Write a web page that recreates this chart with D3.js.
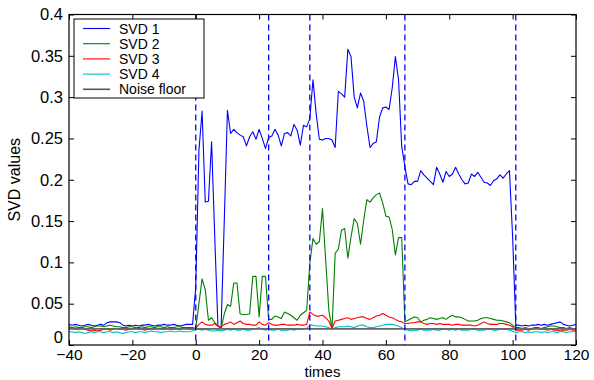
<!DOCTYPE html>
<html>
<head>
<meta charset="utf-8">
<script src="https://cdn.jsdelivr.net/npm/d3@7"></script>
<style>
  html, body { margin: 0; padding: 0; background: #fff; }
  svg { display: block; font-family: "Liberation Sans", Arial, Helvetica, sans-serif; }
</style>
</head>
<body>
<svg id="chart" width="594" height="380"></svg>
<script>
// ---- data ----
const timeStart = -40, timeEnd = 120;
const times = d3.range(timeStart, timeEnd + 1);

const svd1 = [
  // -40 .. -1
  0.025,0.024,0.025,0.024,0.023,0.024,0.025,0.024,0.023,0.024,
  0.025,0.024,0.027,0.028,0.028,0.028,0.027,0.024,0.023,0.024,
  0.023,0.024,0.023,0.024,0.024,0.025,0.024,0.023,0.024,0.024,
  0.025,0.024,0.024,0.025,0.024,0.023,0.024,0.025,0.025,0.025,
  // 0 .. 9
  0.070,0.235,0.283,0.173,0.174,0.246,0.130,0.023,0.021,0.150,
  // 10 .. 19
  0.284,0.256,0.261,0.257,0.254,0.252,0.241,0.252,0.258,0.249,
  // 20 .. 29
  0.261,0.250,0.238,0.251,0.253,0.261,0.254,0.241,0.256,0.257,
  // 30 .. 39
  0.253,0.267,0.260,0.242,0.266,0.264,0.274,0.321,0.280,0.249,
  // 40 .. 49
  0.248,0.250,0.250,0.248,0.239,0.307,0.304,0.300,0.358,0.349,
  // 50 .. 59
  0.300,0.287,0.305,0.295,0.265,0.239,0.244,0.246,0.276,0.287,
  // 60 .. 69
  0.288,0.285,0.311,0.349,0.321,0.240,0.216,0.195,0.194,0.198,
  // 70 .. 79
  0.198,0.211,0.206,0.202,0.198,0.194,0.215,0.207,0.197,0.210,
  // 80 .. 89
  0.204,0.207,0.215,0.207,0.200,0.195,0.196,0.207,0.204,0.209,
  // 90 .. 99
  0.203,0.197,0.196,0.193,0.199,0.201,0.206,0.202,0.207,0.211,
  // 100 .. 109
  0.131,0.024,0.024,0.023,0.024,0.023,0.024,0.024,0.025,0.024,
  // 110 .. 120
  0.025,0.024,0.025,0.026,0.027,0.028,0.025,0.024,0.023,0.024,0.025
];

const svd2 = [
  0.022,0.021,0.022,0.021,0.021,0.022,0.022,0.021,0.022,0.023,
  0.023,0.022,0.023,0.024,0.023,0.022,0.022,0.021,0.021,0.022,
  0.022,0.021,0.021,0.022,0.021,0.022,0.022,0.021,0.022,0.022,
  0.021,0.022,0.021,0.021,0.022,0.022,0.021,0.021,0.021,0.021,
  // 0 .. 9
  0.020,0.050,0.080,0.067,0.030,0.033,0.027,0.023,0.020,0.0375,
  // 10 .. 19
  0.049,0.047,0.075,0.075,0.0375,0.037,0.037,0.0375,0.083,0.083,
  // 20 .. 29
  0.034,0.083,0.083,0.031,0.031,0.035,0.034,0.032,0.040,0.038,
  // 30 .. 39
  0.036,0.033,0.030,0.036,0.039,0.042,0.099,0.129,0.122,0.125,
  // 40 .. 49
  0.165,0.103,0.042,0.020,0.111,0.116,0.139,0.141,0.105,0.131,
  // 50 .. 59
  0.153,0.147,0.122,0.151,0.176,0.173,0.178,0.182,0.184,0.172,
  // 60 .. 69
  0.156,0.155,0.140,0.109,0.130,0.130,0.028,0.030,0.032,0.034,
  // 70 .. 79
  0.033,0.028,0.030,0.031,0.033,0.032,0.031,0.032,0.033,0.031,
  // 80 .. 89
  0.034,0.036,0.034,0.034,0.033,0.031,0.029,0.029,0.029,0.030,
  // 90 .. 99
  0.032,0.033,0.033,0.032,0.031,0.030,0.030,0.029,0.028,0.027,
  // 100 .. 109
  0.024,0.021,0.021,0.020,0.021,0.020,0.020,0.021,0.021,0.020,
  // 110 .. 120
  0.021,0.022,0.023,0.023,0.022,0.021,0.021,0.020,0.021,0.020,0.020
];

const svd3 = [
  0.020,0.020,0.019,0.019,0.020,0.019,0.018,0.017,0.018,0.017,
  0.018,0.019,0.019,0.018,0.019,0.020,0.019,0.019,0.018,0.019,
  0.019,0.020,0.019,0.019,0.018,0.019,0.019,0.019,0.020,0.019,
  0.019,0.020,0.019,0.019,0.019,0.019,0.020,0.020,0.019,0.019,
  // 0 .. 9
  0.020,0.025,0.028,0.025,0.024,0.024,0.026,0.023,0.022,0.025,
  // 10 .. 19
  0.026,0.028,0.025,0.027,0.029,0.026,0.025,0.025,0.024,0.024,
  // 20 .. 29
  0.028,0.025,0.024,0.027,0.025,0.024,0.024,0.025,0.025,0.024,
  // 30 .. 39
  0.024,0.024,0.025,0.024,0.024,0.025,0.040,0.037,0.035,0.035,
  // 40 .. 49
  0.036,0.033,0.029,0.020,0.029,0.030,0.031,0.032,0.033,0.031,
  // 50 .. 59
  0.032,0.033,0.034,0.034,0.032,0.031,0.033,0.035,0.036,0.038,
  // 60 .. 69
  0.036,0.034,0.033,0.031,0.029,0.028,0.026,0.026,0.027,0.027,
  // 70 .. 79
  0.028,0.028,0.026,0.025,0.026,0.026,0.025,0.026,0.025,0.025,
  // 80 .. 89
  0.025,0.024,0.025,0.025,0.024,0.024,0.024,0.024,0.023,0.024,
  // 90 .. 99
  0.026,0.028,0.026,0.025,0.025,0.025,0.026,0.026,0.025,0.024,
  // 100 .. 109
  0.022,0.018,0.018,0.018,0.019,0.018,0.019,0.020,0.020,0.019,
  // 110 .. 120
  0.019,0.018,0.019,0.018,0.018,0.017,0.018,0.018,0.019,0.018,0.018
];

const svd4 = [
  0.016,0.016,0.015,0.016,0.015,0.014,0.015,0.016,0.015,0.016,
  0.016,0.015,0.016,0.016,0.015,0.016,0.015,0.014,0.015,0.016,
  0.016,0.015,0.016,0.016,0.015,0.016,0.017,0.016,0.016,0.015,
  0.016,0.016,0.017,0.016,0.016,0.017,0.016,0.016,0.016,0.017,
  // 0 .. 9
  0.019,0.019,0.018,0.019,0.018,0.017,0.017,0.018,0.017,0.018,
  // 10 .. 19
  0.019,0.018,0.019,0.018,0.018,0.019,0.018,0.018,0.019,0.020,
  // 20 .. 29
  0.021,0.019,0.018,0.019,0.018,0.018,0.019,0.018,0.018,0.018,
  // 30 .. 39
  0.019,0.018,0.019,0.019,0.019,0.020,0.024,0.024,0.023,0.023,
  // 40 .. 49
  0.023,0.022,0.021,0.019,0.021,0.022,0.022,0.022,0.023,0.022,
  // 50 .. 59
  0.021,0.023,0.024,0.024,0.022,0.021,0.021,0.022,0.023,0.024,
  // 60 .. 69
  0.025,0.025,0.025,0.024,0.023,0.021,0.019,0.018,0.017,0.018,
  // 70 .. 79
  0.018,0.019,0.018,0.018,0.018,0.019,0.018,0.018,0.019,0.019,
  // 80 .. 89
  0.018,0.019,0.018,0.019,0.018,0.018,0.018,0.019,0.019,0.018,
  // 90 .. 99
  0.018,0.018,0.019,0.019,0.018,0.018,0.019,0.019,0.019,0.018,
  // 100 .. 109
  0.017,0.015,0.016,0.016,0.015,0.016,0.015,0.016,0.016,0.015,
  // 110 .. 120
  0.016,0.015,0.016,0.016,0.015,0.016,0.016,0.015,0.016,0.016,0.016
];

const noiseFloor = 0.0195;
const eventTimes = [0, 23, 36, 66, 101];

const xTicks = [-40, -20, 0, 20, 40, 60, 80, 100, 120];
const yTicks = [0, 0.05, 0.1, 0.15, 0.2, 0.25, 0.3, 0.35, 0.4];
const yTickLabels = ["0", "0.05", "0.1", "0.15", "0.2", "0.25", "0.3", "0.35", "0.4"];

const seriesNames = ["SVD 1", "SVD 2", "SVD 3", "SVD 4", "Noise floor"];
const seriesColors = ["#0000ff", "#007f00", "#ff0000", "#00bfbf", "#555555"];

// ---- layout ----
const W = 594, H = 380;
const margin = { left: 69, right: 18, top: 14.5, bottom: 35 };
const iw = W - margin.left - margin.right;
const ih = H - margin.top - margin.bottom;

const svg = d3.select("#chart");
const g = svg.append("g").attr("transform", `translate(${margin.left},${margin.top})`);

const x = d3.scaleLinear().domain([-40, 120]).range([0, iw]);
const y = d3.scaleLinear().domain([0, 0.4]).range([ih, 0]);

const fmtX = d => d < 0 ? "\u2212" + Math.abs(d) : String(d);
const fmtY = d => yTickLabels[yTicks.indexOf(d)];

svg.append("defs").append("clipPath").attr("id", "clip")
  .append("rect").attr("width", iw).attr("height", ih);

const plot = g.append("g").attr("clip-path", "url(#clip)");

const line = d3.line().x((d, i) => x(times[i])).y(d => y(d));

const allSeries = [svd1, svd2, svd3, svd4];
allSeries.forEach((s, k) => {
  plot.append("path").datum(s)
    .attr("d", line)
    .attr("fill", "none")
    .attr("stroke", seriesColors[k])
    .attr("stroke-width", 1.1)
    .attr("stroke-linejoin", "round");
});

plot.append("line")
  .attr("x1", x(-40)).attr("x2", x(120))
  .attr("y1", y(noiseFloor)).attr("y2", y(noiseFloor))
  .attr("stroke", "#666666").attr("stroke-width", 1.6);

plot.selectAll("line.event").data(eventTimes).join("line")
  .attr("class", "event")
  .attr("x1", d => x(d)).attr("x2", d => x(d))
  .attr("y1", 0).attr("y2", ih)
  .attr("stroke", "#0000ff").attr("stroke-width", 1.3)
  .attr("stroke-dasharray", "6,4");

// axes (inward ticks on all sides)
const axB = g.append("g").attr("transform", `translate(0,${ih})`)
  .call(d3.axisBottom(x).tickValues(xTicks).tickFormat(fmtX).tickSize(-5).tickSizeOuter(0).tickPadding(4));
const axT = g.append("g")
  .call(d3.axisTop(x).tickValues(xTicks).tickFormat("").tickSize(-5).tickSizeOuter(0));
const axL = g.append("g")
  .call(d3.axisLeft(y).tickValues(yTicks).tickFormat(fmtY).tickSize(-5).tickSizeOuter(0).tickPadding(6));
const axR = g.append("g").attr("transform", `translate(${iw},0)`)
  .call(d3.axisRight(y).tickValues(yTicks).tickFormat("").tickSize(-5).tickSizeOuter(0));

[axB, axT, axL, axR].forEach(a => {
  a.select(".domain").remove();
  a.selectAll("line").attr("stroke", "#000").attr("stroke-width", 1);
  a.selectAll("text").attr("fill", "#000")
    .style("font-family", "'Liberation Sans', Arial, sans-serif");
});
axB.selectAll("text").style("font-size", "15.5px");
axL.selectAll("text").style("font-size", "16.5px");
// lift the bottom "0" label slightly so it clears the x labels
axL.selectAll(".tick").filter(d => d === 0).select("text").attr("dy", "-0.16em");

g.append("rect").attr("width", iw).attr("height", ih)
  .attr("fill", "none").attr("stroke", "#000").attr("stroke-width", 1.2);

// axis labels
svg.append("text")
  .attr("x", margin.left + x(40)).attr("y", 376.8)
  .attr("text-anchor", "middle")
  .style("font-size", "15px")
  .text("times");

svg.append("text")
  .attr("transform", `translate(20,${margin.top + ih / 2}) rotate(-90)`)
  .attr("text-anchor", "middle")
  .style("font-size", "16px")
  .text("SVD values");

// legend
const lg = svg.append("g");
lg.append("rect").attr("x", 74).attr("y", 19).attr("width", 130).attr("height", 79)
  .attr("fill", "#fff").attr("stroke", "#000").attr("stroke-width", 1);
seriesNames.forEach((name, i) => {
  const cy = 28.5 + i * 15.2;
  lg.append("line").attr("x1", 83).attr("x2", 110).attr("y1", cy).attr("y2", cy)
    .attr("stroke", seriesColors[i]).attr("stroke-width", i === 4 ? 1.6 : 1.1);
  lg.append("text").attr("x", 119).attr("y", cy + 5)
    .style("font-size", "14px").text(name);
});
</script>
</body>
</html>
